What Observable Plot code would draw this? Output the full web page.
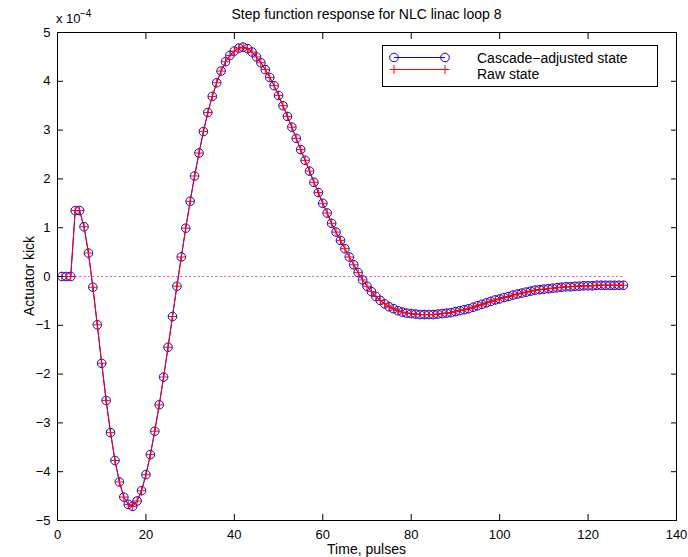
<!DOCTYPE html>
<html><head><meta charset="utf-8">
<script src="https://cdn.jsdelivr.net/npm/d3@7"></script>
<script src="https://cdn.jsdelivr.net/npm/@observablehq/plot@0.6"></script>
<style>body{margin:0;background:#fff}</style>
</head><body><div id="chart"></div>
<script>
// Time axis (pulse number)
const pulses = d3.range(1, 129);
// Actuator kick in units of 1e-4
const cascadeAdjusted = [
  0, 0, 0, 1.35, 1.35, 1.02, 0.48, -0.22, -0.99, -1.78,
  -2.54, -3.20, -3.77, -4.21, -4.52, -4.67, -4.71, -4.60, -4.39, -4.06,
  -3.65, -3.17, -2.63, -2.06, -1.45, -0.82, -0.20, 0.40, 0.99, 1.54,
  2.06, 2.53, 2.97, 3.36, 3.69, 3.97, 4.21, 4.40, 4.53, 4.62,
  4.68, 4.70, 4.67, 4.60, 4.50, 4.38, 4.24, 4.08, 3.91, 3.71,
  3.50, 3.28, 3.06, 2.83, 2.60, 2.38, 2.16, 1.93, 1.72, 1.50,
  1.30, 1.09, 0.91, 0.74, 0.57, 0.40, 0.24, 0.08, -0.07, -0.20,
  -0.31, -0.41, -0.49, -0.56, -0.62, -0.66, -0.70, -0.73, -0.75, -0.76,
  -0.77, -0.78, -0.78, -0.78, -0.78, -0.77, -0.76, -0.75, -0.74, -0.72,
  -0.70, -0.68, -0.66, -0.63, -0.60, -0.57, -0.54, -0.51, -0.48, -0.46,
  -0.43, -0.41, -0.38, -0.36, -0.34, -0.32, -0.30, -0.28, -0.27, -0.26,
  -0.25, -0.24, -0.23, -0.22, -0.21, -0.21, -0.20, -0.20, -0.19, -0.19,
  -0.19, -0.18, -0.18, -0.18, -0.18, -0.18, -0.18, -0.18
];
const rawState = [
  0, 0, 0, 1.35, 1.35, 1.02, 0.48, -0.22, -0.99, -1.78,
  -2.54, -3.20, -3.77, -4.21, -4.52, -4.67, -4.71, -4.60, -4.39, -4.06,
  -3.65, -3.17, -2.63, -2.06, -1.45, -0.82, -0.20, 0.40, 0.99, 1.54,
  2.06, 2.53, 2.97, 3.36, 3.69, 3.97, 4.21, 4.40, 4.53, 4.62,
  4.68, 4.70, 4.67, 4.60, 4.50, 4.38, 4.24, 4.08, 3.91, 3.71,
  3.50, 3.28, 3.06, 2.83, 2.60, 2.38, 2.16, 1.93, 1.72, 1.50,
  1.30, 1.09, 0.91, 0.74, 0.57, 0.40, 0.24, 0.08, -0.07, -0.20,
  -0.31, -0.41, -0.49, -0.56, -0.62, -0.66, -0.70, -0.73, -0.75, -0.76,
  -0.77, -0.78, -0.78, -0.78, -0.78, -0.77, -0.76, -0.75, -0.74, -0.72,
  -0.70, -0.68, -0.66, -0.63, -0.60, -0.57, -0.54, -0.51, -0.48, -0.46,
  -0.43, -0.41, -0.38, -0.36, -0.34, -0.32, -0.30, -0.28, -0.27, -0.26,
  -0.25, -0.24, -0.23, -0.22, -0.21, -0.21, -0.20, -0.20, -0.19, -0.19,
  -0.19, -0.18, -0.18, -0.18, -0.18, -0.18, -0.18, -0.18
];
const zeroRefT = [0, 128];
const zeroRefV = [0, 0];
const xTicks = [0, 20, 40, 60, 80, 100, 120, 140];
const yTicks = [-5, -4, -3, -2, -1, 0, 1, 2, 3, 4, 5];
const titleText = "Step function response for NLC linac loop 8";
const xLabel = "Time, pulses";
const yLabel = "Actuator kick";
const seriesNames = ["Cascade\u2212adjusted state", "Raw state"];

const cascadeData = pulses.map((t, i) => ({t, v: cascadeAdjusted[i]}));
const rawData = pulses.map((t, i) => ({t, v: rawState[i]}));
const zeroData = zeroRefT.map((t, i) => ({t, v: zeroRefV[i]}));

const BLUE = "#0000ff", RED = "#ff0000", MAG = "#d65ad6";
const FONT = "'Liberation Sans', Arial, sans-serif";

const plot = Plot.plot({
  width: 688, height: 557,
  marginLeft: 57, marginRight: 12, marginTop: 32, marginBottom: 37,
  style: {fontFamily: FONT, fontSize: "13px", background: "#fff", color: "#000", overflow: "visible"},
  x: {domain: [0, 140]},
  y: {domain: [-5, 5]},
  marks: [
    Plot.line(zeroData, {x: "t", y: "v", stroke: MAG, strokeWidth: 1.2, strokeDasharray: "1.2,3.2"}),
    Plot.line(cascadeData, {x: "t", y: "v", stroke: BLUE, strokeWidth: 1}),
    Plot.dot(cascadeData, {x: "t", y: "v", symbol: "circle", r: 4.3, stroke: BLUE, fill: "none", strokeWidth: 1}),
    Plot.line(rawData, {x: "t", y: "v", stroke: RED, strokeWidth: 1}),
    Plot.dot(rawData, {x: "t", y: "v", symbol: "plus", r: 3, stroke: RED, fill: "none", strokeWidth: 1}),
    Plot.frame({stroke: "#000", strokeWidth: 1}),
    Plot.axisX(xTicks, {anchor: "bottom", tickSize: -6, tickPadding: 15, label: null, tickFormat: d => String(d)}),
    Plot.axisX(xTicks, {anchor: "top", tickSize: -6, tickFormat: () => "", label: null}),
    Plot.axisY(yTicks, {anchor: "left", tickSize: -6, tickPadding: 13, label: null}),
    Plot.axisY(yTicks, {anchor: "right", tickSize: -6, tickFormat: () => "", label: null})
  ]
});

const svg = d3.select(plot);
const cx = (57 + 676) / 2;
function txt(parent, x, y, s, size, anchor) {
  return parent.append("text").attr("x", x).attr("y", y).attr("text-anchor", anchor)
    .attr("font-family", FONT).attr("font-size", size).attr("fill", "#000").text(s);
}
txt(svg, cx, 19, titleText, 14, "middle");
txt(svg, cx, 554, xLabel, 14, "middle");
svg.append("text").attr("transform", "translate(34,276) rotate(-90)").attr("text-anchor", "middle")
  .attr("font-family", FONT).attr("font-size", 14).attr("fill", "#000").text(yLabel);
// exponent label
txt(svg, 56, 23, "x 10", 13, "start");
txt(svg, 80, 17, "\u22124", 10, "start");

// legend
const lg = svg.append("g");
lg.append("rect").attr("x", 382.5).attr("y", 45.5).attr("width", 275).attr("height", 41)
  .attr("fill", "#fff").attr("stroke", "#000");
lg.append("line").attr("x1", 394).attr("x2", 445).attr("y1", 57.5).attr("y2", 57.5).attr("stroke", BLUE);
[394, 445].forEach(x => lg.append("circle").attr("cx", x).attr("cy", 57.5).attr("r", 4.3)
  .attr("fill", "none").attr("stroke", BLUE));
lg.append("line").attr("x1", 394).attr("x2", 445).attr("y1", 69.5).attr("y2", 69.5).attr("stroke", RED);
[394, 445].forEach(x => lg.append("path").attr("d", `M${x-4.5},69.5H${x+4.5}M${x},65V74`)
  .attr("fill", "none").attr("stroke", RED));
txt(lg, 477, 63, seriesNames[0], 14, "start");
txt(lg, 477, 78.5, seriesNames[1], 14, "start");

document.getElementById("chart").appendChild(plot);
</script>
</body></html>
